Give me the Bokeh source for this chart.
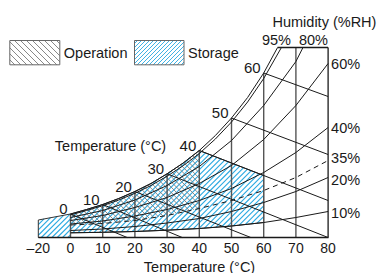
import math
import numpy as np
from bokeh.plotting import figure
from bokeh.models import FixedTicker, Range1d
from bokeh.core.properties import value
from bokeh.embed import file_html
from bokeh.resources import INLINE

FONT = "Liberation Sans"
BLUE = "#2aa9e1"
GRAY_HATCH = "#7a7a7a"
INK = "#1a1a1a"

# ---------------- data ----------------
# x-axis ticks: dry-bulb temperature (°C)
tick_temps = [-20, 0, 10, 20, 30, 40, 50, 60, 70, 80]

# saturation curve (100 %RH): humidity index (arbitrary units)
sat_t = [0, 5, 10, 15, 20, 25, 30, 35, 40, 45, 50, 55, 60, 64.3]
sat_h = [23.5, 28, 33, 39, 46, 54, 63.7, 74.5, 87, 102, 119.5, 140, 164.5, 190]

# 95 %RH curve
rh95_t = [0, 5, 10, 15, 20, 25, 30, 35, 40, 45, 50, 55, 60, 65.5]
rh95_h = [22.6, 27, 31.8, 37.5, 44.2, 52, 61.3, 71.8, 84, 98.5, 115.5, 135.5, 159, 190]

# 80 %RH curve
rh80_t = [0, 10, 20, 30, 40, 50, 60, 70, 72.2]
rh80_h = [20, 27, 37.5, 52, 71, 97, 132, 176, 190]

# lower relative-humidity curves
rh_t = [0, 10, 20, 30, 40, 50, 60, 70, 80]
rh60_h = [17, 22, 30, 40, 54, 72, 98, 132, 174]
rh40_h = [13.5, 16.5, 21.5, 28, 37, 49, 65, 85, 110]
rh35_h = [12.5, 14, 17, 22, 29, 37, 47, 60, 77]
rh20_h = [7, 8.5, 11, 14.5, 19, 26, 35, 46, 60]
rh10_h = [4.7, 5.2, 6, 7.3, 9, 11.5, 15, 20, 26]
rh_labels = ["60%", "40%", "35%", "20%", "10%"]

# wet-bulb temperature lines: start on saturation curve, end on the frame
wb_t = [0, 10, 20, 30, 40, 50, 60]
wb_end_t = [17.6, 34.7, 56, 80, 80, 80, 80]
wb_end_h = [0, 0, 0, 0, 37, 83, 141]

# vertical dry-bulb lines
grid_t = [0, 10, 20, 30, 40, 50, 60, 70]

# specification ranges
storage_t = [-20, 60]          # dry bulb
storage_wb_max = 40            # wet bulb
storage_box_h = [17.5, 23.5]   # top of the box at -20 and 0 °C
operation_t = [0, 40]

TOP = 190   # top of chart in humidity index units

# ---------------- page geometry ----------------
W, H = 377, 273
X0, X1 = -21.74, 95.34      # axis-position range across the page
Y0, Y1 = -36.0, 237.0       # humidity-index range down the page
KX = W / (X1 - X0)
KY = H / (Y1 - Y0)


def pos(t):
    """axis position: the -20..0 °C segment is drawn at half scale"""
    return t if t >= 0 else t / 2.0


def sat(t):
    return float(np.interp(t, sat_t, sat_h))


def px(xp, yp):
    """page pixel -> data (used for placing legend/annotation items)"""
    return X0 + xp / KX, Y1 - yp / KY


def hatch(xs, ys, slope, spacing):
    """45-degree hatch lines (in screen space) clipped to a polygon"""
    u = np.asarray(xs, float) * KX
    v = np.asarray(ys, float) * KY
    w = v - slope * u
    n = len(u)
    x0s, y0s, x1s, y1s = [], [], [], []
    c = math.floor(w.min() / spacing) * spacing + spacing * 0.5 + 1e-6
    while c < w.max():
        cuts = []
        for i in range(n):
            j = (i + 1) % n
            a, b = w[i], w[j]
            if (a < c <= b) or (b < c <= a):
                t = (c - a) / (b - a)
                cuts.append(u[i] + t * (u[j] - u[i]))
        cuts.sort()
        for ua, ub in zip(cuts[0::2], cuts[1::2]):
            x0s.append(ua / KX)
            y0s.append((c + slope * ua) / KY)
            x1s.append(ub / KX)
            y1s.append((c + slope * ub) / KY)
        c += spacing
    return dict(x0=x0s, y0=y0s, x1=x1s, y1=y1s)


p = figure(width=W, height=H, x_range=Range1d(X0, X1), y_range=Range1d(Y0, Y1),
           output_backend="svg", toolbar_location=None, min_border=0,
           y_axis_location=None)
p.outline_line_color = None
p.grid.visible = False

# ---------------- regions ----------------
i40 = sat_t.index(storage_wb_max)
k40 = wb_t.index(storage_wb_max)
wb40_at_60 = float(np.interp(storage_t[1], [storage_wb_max, wb_end_t[k40]],
                             [sat(storage_wb_max), wb_end_h[k40]]))
i60 = rh_t.index(storage_t[1])
st_x = [pos(storage_t[0]), pos(storage_t[0])] + sat_t[:i40 + 1] + \
       [storage_t[1], storage_t[1]] + rh_t[i60::-1] + [0]
st_y = [0, storage_box_h[0]] + sat_h[:i40 + 1] + \
       [wb40_at_60, rh10_h[i60]] + rh10_h[i60::-1] + [0]

j40 = rh_t.index(operation_t[1])
op_x = sat_t[:i40 + 1] + rh_t[j40::-1]
op_y = sat_h[:i40 + 1] + rh35_h[j40::-1]

p.segment(**hatch(st_x, st_y, 1, 5.3), line_color=BLUE, line_width=1.1)
p.segment(**hatch(op_x, op_y, -1, 5.3), line_color=GRAY_HATCH, line_width=0.9)
p.patch(st_x, st_y, fill_color=None, line_color="#333333", line_width=1)

# ---------------- chart lines ----------------
grid_top = [min(sat(t), TOP) if t <= sat_t[-1] else TOP for t in grid_t]
p.segment(x0=grid_t, y0=[0] * len(grid_t), x1=grid_t, y1=grid_top,
          line_color="#555555", line_width=1.4)

p.line(sat_t, sat_h, line_color=INK, line_width=1)
p.line(rh95_t, rh95_h, line_color=INK, line_width=1)
p.line(rh80_t, rh80_h, line_color=INK, line_width=1)
for hs in (rh60_h, rh40_h, rh20_h, rh10_h):
    p.line(rh_t, hs, line_color=INK, line_width=1)
p.line(rh_t, rh35_h, line_color=INK, line_width=1, line_dash="5 4")

p.segment(x0=wb_t, y0=[sat(t) for t in wb_t], x1=wb_end_t, y1=wb_end_h,
          line_color=INK, line_width=1)

# frame: right edge and top edge
p.segment(x0=[80, sat_t[-1]], y0=[0, TOP], x1=[80, 80], y1=[TOP, TOP],
          line_color=INK, line_width=1.3)

# ---------------- texts ----------------
p.text(x=wb_t, y=[sat(t) for t in wb_t], text=[str(t) for t in wb_t],
       text_font=value(FONT), text_font_size="15px", text_color=INK,
       text_align="right", text_baseline="alphabetic", x_offset=-3, y_offset=-5)

rh_end = [rh60_h[-1], rh40_h[-1], rh35_h[-1], rh20_h[-1], rh10_h[-1]]
p.text(x=[80] * 5, y=rh_end, text=rh_labels, text_font=value(FONT),
       text_font_size="14.5px", text_color=INK, text_align="left",
       text_baseline="middle", x_offset=3, y_offset=[0, 0, -3, 2, 1])

p.text(x=[rh95_t[-1], rh80_t[-1]], y=[TOP, TOP], text=["95%", "80%"],
       text_font=value(FONT), text_font_size="14.5px", text_color=INK,
       text_align="center", text_baseline="middle",
       x_offset=[-5, 10.5], y_offset=-8)

hx, hy = px(272, 21)
p.text(x=[hx], y=[hy], text=["Humidity (%RH)"], text_font=value(FONT),
       text_font_size="14.5px", text_color=INK, text_align="left",
       text_baseline="middle")
tx, ty = px(110, 145)
p.text(x=[tx], y=[ty], text=["Temperature (°C)"], text_font=value(FONT),
       text_font_size="14.5px", text_color=INK, text_align="center",
       text_baseline="middle")
bx, by = px(199, 266)
p.text(x=[bx], y=[by], text=["Temperature (°C)"], text_font=value(FONT),
       text_font_size="14.5px", text_color=INK, text_align="center",
       text_baseline="middle")

# ---------------- x axis ----------------
ax = p.xaxis[0]
ax.fixed_location = 0
ax.bounds = (pos(tick_temps[0]), tick_temps[-1])
ax.ticker = FixedTicker(ticks=[pos(t) for t in tick_temps])
ax.major_label_overrides = {pos(tick_temps[0]): "\u2013" + str(abs(tick_temps[0]))}
ax.major_tick_line_color = None
ax.minor_tick_line_color = None
ax.major_tick_out = 0
ax.major_tick_in = 0
ax.minor_tick_out = 0
ax.minor_tick_in = 0
ax.axis_line_color = INK
ax.axis_line_width = 1.4
ax.major_label_standoff = 2
ax.major_label_text_font = FONT
ax.major_label_text_font_size = "14px"
ax.major_label_text_color = INK

# ---------------- legend (hatched key boxes) ----------------
legend_labels = ["Operation", "Storage"]
key_boxes = [(9.3, 40, 59.3, 64.3), (134, 40, 183.5, 64.3)]   # page px
key_styles = [(-1, 6, GRAY_HATCH), (1, 4, BLUE)]
for (l, t, r, b), (slope, sp, col) in zip(key_boxes, key_styles):
    xl, yt = px(l, t)
    xr, yb = px(r, b)
    bx_ = [xl, xr, xr, xl]
    by_ = [yb, yb, yt, yt]
    p.segment(**hatch(bx_, by_, slope, sp), line_color=col, line_width=0.9)
    p.patch(bx_, by_, fill_color=None, line_color="#666666", line_width=1)
lx = [px(key_boxes[0][2] + 4, 0)[0], px(key_boxes[1][2] + 4, 0)[0]]
ly = px(0, 52)[1]
p.text(x=lx, y=[ly, ly], text=legend_labels, text_font=value(FONT),
       text_font_size="14.5px", text_color=INK, text_align="left",
       text_baseline="middle")

open("out.html", "w").write(file_html(p, INLINE))
